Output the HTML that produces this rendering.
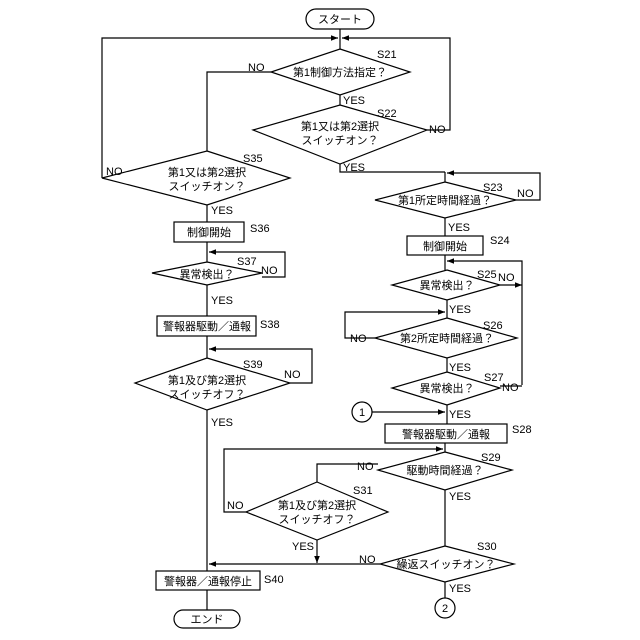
<!DOCTYPE html>
<html><head><meta charset="utf-8"><style>body{margin:0;background:#fff}svg{display:block}text{font-family:"Liberation Sans","Noto Sans CJK JP",sans-serif;font-size:11px;fill:#000}</style></head><body>
<svg width="640" height="640" viewBox="0 0 640 640" xmlns="http://www.w3.org/2000/svg">
<defs><marker id="a" viewBox="0 0 10 10" refX="10" refY="5" markerWidth="6" markerHeight="6" orient="auto"><path d="M0,1L10,5L0,9z" fill="#000"/></marker></defs>
<g fill="none" stroke="#000" stroke-width="1.2">
<rect x="306" y="9" width="68" height="20" rx="10" fill="#fff"/>
<line x1="340" y1="29" x2="340" y2="49"/>
<polyline points="102,178 102,38 338,38" marker-end="url(#a)"/>
<polyline points="427,130 450,130 450,38 342,38" marker-end="url(#a)"/>
<polygon points="340,49 410,72 340,95 271,72"/>
<polyline points="271,72 207,72 207,151"/>
<line x1="340" y1="95" x2="340" y2="105"/>
<polygon points="340,105 427,130 340,164 253,130"/>
<polyline points="340,164 340,172 445,172"/>
<polyline points="516,200 540,200 540,173 447,173" marker-end="url(#a)"/>
<line x1="445" y1="172" x2="445" y2="182"/>
<polygon points="445,182 516,200 445,218 375,200"/>
<line x1="445" y1="218" x2="445" y2="236"/>
<rect x="407" y="236" width="76" height="19"/>
<line x1="445" y1="255" x2="445" y2="270"/>
<polyline points="522,385 522,261 447,261" marker-end="url(#a)"/>
<polygon points="447,270 500,285 447,300 392,285"/>
<line x1="500" y1="285" x2="522" y2="285" marker-end="url(#a)"/>
<line x1="447" y1="300" x2="447" y2="318"/>
<polyline points="375,338 345,338 345,312 445,312" marker-end="url(#a)"/>
<polygon points="447,318 517,338 447,358 375,338"/>
<line x1="447" y1="358" x2="447" y2="372"/>
<polygon points="447,372 500,388 447,405 392,388"/>
<line x1="500" y1="386" x2="522" y2="386"/>
<line x1="447" y1="405" x2="447" y2="424"/>
<circle cx="362" cy="412" r="10"/>
<line x1="372" y1="412" x2="445" y2="412" marker-end="url(#a)"/>
<rect x="385" y="424" width="122" height="19"/>
<line x1="445" y1="443" x2="445" y2="452"/>
<polyline points="246,512 224,512 224,449 443,449" marker-end="url(#a)"/>
<polygon points="445,452 512,470 445,490 378,470"/>
<polyline points="378,464 317,464 317,482"/>
<polygon points="317,482 388,512 317,540 246,512"/>
<line x1="317" y1="540" x2="317" y2="563" marker-end="url(#a)"/>
<line x1="445" y1="490" x2="445" y2="546"/>
<polygon points="445,546 514,564 445,582 380,564"/>
<line x1="380" y1="564" x2="209" y2="564" marker-end="url(#a)"/>
<line x1="445" y1="582" x2="445" y2="598"/>
<circle cx="445" cy="608" r="10"/>
<polygon points="207,151 290,178 207,205 102,178"/>
<line x1="207" y1="205" x2="207" y2="222"/>
<rect x="174" y="222" width="70" height="20"/>
<line x1="207" y1="242" x2="207" y2="262"/>
<polyline points="262,277 285,277 285,252 209,252" marker-end="url(#a)"/>
<polygon points="207,262 262,273 207,285 152,273"/>
<line x1="207" y1="285" x2="207" y2="316"/>
<rect x="157" y="316" width="99" height="20"/>
<line x1="207" y1="336" x2="207" y2="358"/>
<polyline points="290,383 312,383 312,349 209,349" marker-end="url(#a)"/>
<polygon points="207,358 290,383 207,410 135,383"/>
<line x1="207" y1="410" x2="207" y2="571"/>
<rect x="156" y="571" width="104" height="19"/>
<line x1="207" y1="590" x2="207" y2="610"/>
<rect x="174" y="610" width="66" height="18" rx="9" fill="#fff"/>
</g>
<g>
<text x="340" y="23" text-anchor="middle">スタート</text>
<text x="377" y="58">S21</text><text x="340" y="76" text-anchor="middle">第1制御方法指定？</text>
<text x="248" y="71">NO</text><text x="343" y="104">YES</text>
<text x="377" y="117">S22</text><text x="340" y="130" text-anchor="middle">第1又は第2選択</text><text x="340" y="144" text-anchor="middle">スイッチオン？</text>
<text x="429" y="133">NO</text><text x="343" y="171">YES</text>
<text x="483" y="191">S23</text><text x="445" y="204" text-anchor="middle">第1所定時間経過？</text>
<text x="517" y="197">NO</text><text x="448" y="231">YES</text>
<text x="445" y="250" text-anchor="middle">制御開始</text><text x="490" y="244">S24</text>
<text x="477" y="278">S25</text><text x="498" y="281">NO</text><text x="447" y="289" text-anchor="middle">異常検出？</text>
<text x="449" y="313">YES</text>
<text x="483" y="329">S26</text><text x="447" y="342" text-anchor="middle">第2所定時間経過？</text><text x="350" y="342">NO</text>
<text x="449" y="371">YES</text>
<text x="484" y="381">S27</text><text x="502" y="391">NO</text><text x="447" y="392" text-anchor="middle">異常検出？</text>
<text x="362" y="416" text-anchor="middle">1</text><text x="449" y="418">YES</text>
<text x="446" y="438" text-anchor="middle">警報器駆動／通報</text><text x="512" y="433">S28</text>
<text x="481" y="461">S29</text><text x="445" y="474" text-anchor="middle">駆動時間経過？</text><text x="357" y="470">NO</text>
<text x="449" y="500">YES</text>
<text x="353" y="494">S31</text><text x="317" y="509" text-anchor="middle">第1及び第2選択</text><text x="317" y="523" text-anchor="middle">スイッチオフ？</text>
<text x="227" y="509">NO</text><text x="292" y="550">YES</text>
<text x="477" y="550">S30</text><text x="446" y="568" text-anchor="middle">繰返スイッチオン？</text><text x="359" y="563">NO</text>
<text x="449" y="592">YES</text><text x="445" y="612" text-anchor="middle">2</text>
<text x="243" y="162">S35</text><text x="207" y="176" text-anchor="middle">第1又は第2選択</text><text x="207" y="190" text-anchor="middle">スイッチオン？</text>
<text x="106" y="175">NO</text><text x="211" y="214">YES</text>
<text x="209" y="236" text-anchor="middle">制御開始</text><text x="250" y="232">S36</text>
<text x="237" y="265">S37</text><text x="261" y="274">NO</text><text x="207" y="278" text-anchor="middle">異常検出？</text>
<text x="211" y="304">YES</text>
<text x="207" y="330" text-anchor="middle">警報器駆動／通報</text><text x="260" y="328">S38</text>
<text x="243" y="368">S39</text><text x="284" y="378">NO</text>
<text x="207" y="384" text-anchor="middle">第1及び第2選択</text><text x="207" y="398" text-anchor="middle">スイッチオフ？</text>
<text x="211" y="426">YES</text>
<text x="208" y="585" text-anchor="middle">警報器／通報停止</text><text x="264" y="583">S40</text>
<text x="207" y="623" text-anchor="middle">エンド</text>
</g>
</svg>
</body></html>
